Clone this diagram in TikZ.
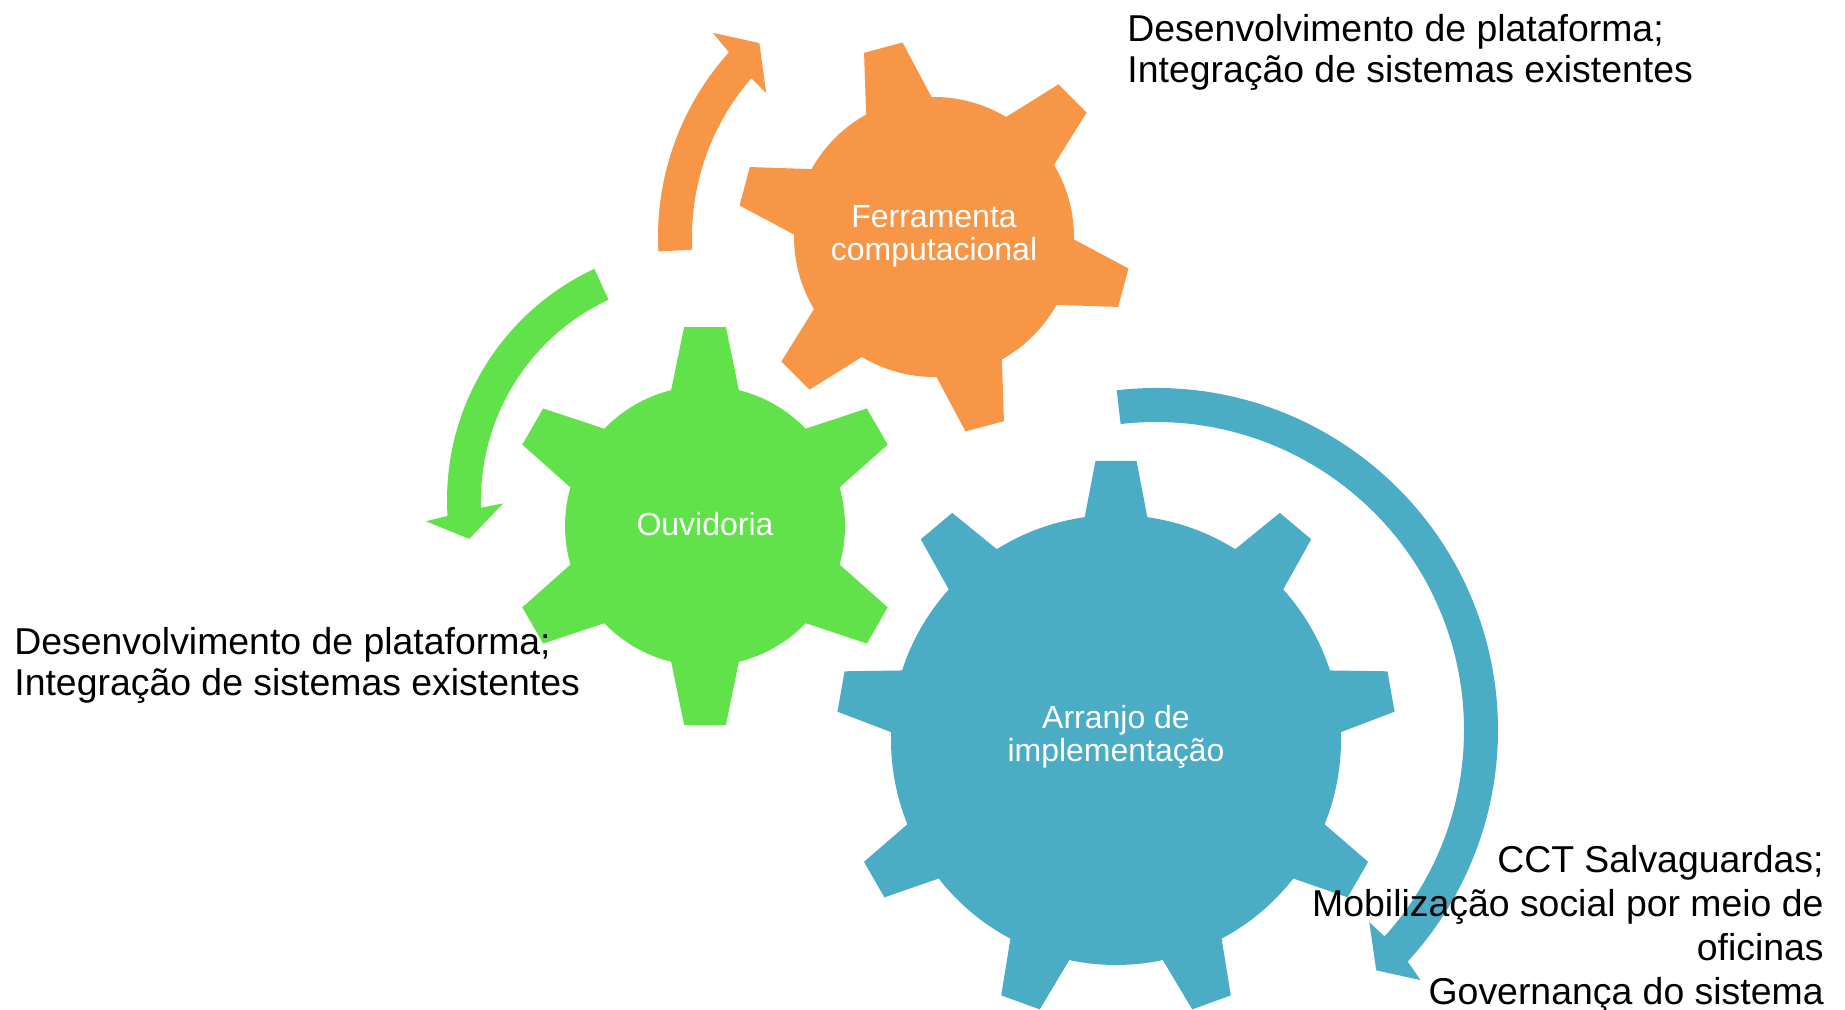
\documentclass[tikz,border=0pt]{standalone}
\usepackage{fontspec}
\setmainfont{Liberation Sans}
\definecolor{gearorange}{RGB}{247,150,70}
\definecolor{geargreen}{RGB}{98,226,74}
\definecolor{gearblue}{RGB}{75,172,198}

\begin{document}
\begin{tikzpicture}[
        x=0.5pt, y=0.5pt,
        gearlabel/.style={
            % The text block
            align=center,
            inner sep=0pt,
            % Font
            text=white,
            font=\fontsize{16}{16.5}\selectfont
        },
        note/.style={
            % The text block
            inner sep=0pt,
            % Font
            text=black,
            font=\fontsize{18.7}{20.5}\selectfont
        }]

    \useasboundingbox (0,0) rectangle (1845,1010);

    % gear centres
    \coordinate (ferc) at (934,773);
    \coordinate (ouvc) at (705,484);
    \coordinate (arrc) at (1116,270);
    % centres of the turning arrows
    \coordinate (ferturn) at (934,773);
    \coordinate (ouvturn) at (702,510);
    \coordinate (arrturn) at (1156,280);

    % gears
    \fill [gearorange, shift={(ferc)}] (91:140)
        \foreach \a in {105,165,...,405}
        { -- (\a-14:140) -- (\a-5.8:197) -- (\a+5.8:197) -- (\a+14:140)
          arc [start angle=\a+14, end angle=\a+46, radius=140] } -- cycle;
    \fill [geargreen, shift={(ouvc)}] (76:140)
        \foreach \a in {90,150,...,390}
        { -- (\a-14:140) -- (\a-6:200) -- (\a+6:200) -- (\a+14:140)
          arc [start angle=\a+14, end angle=\a+46, radius=140] } -- cycle;
    \fill [gearblue, shift={(arrc)}] (82:225)
        \foreach \a in {90,130,...,410}
        { -- (\a-8:225) -- (\a-4.2:280) -- (\a+4.2:280) -- (\a+8:225)
          arc [start angle=\a+8, end angle=\a+32, radius=225] } -- cycle;

    % turning arrows
    \fill [gearorange, shift={(ferturn)}] (183:276)
        arc [start angle=183, end angle=138, radius=276]
        -- (137.3:301) -- (132:261) -- (139.4:221) -- (139:242)
        arc [start angle=139, end angle=183, radius=242] -- cycle;
    \fill [geargreen, shift={(ouvturn)}] (115:255)
        arc [start angle=115, end angle=183.6, radius=255]
        -- (184.4:277) -- (189.5:236) -- (181:199) -- (182:221)
        arc [start angle=182, end angle=115, radius=221] -- cycle;
    \fill [gearblue, shift={(arrturn)}] (96.6:342)
        arc [start angle=96.6, end angle=-42.6, radius=342]
        -- (-43.4:364) -- (-47.5:326) -- (-42:287) -- (-42.1:308)
        arc [start angle=-42.1, end angle=96.6, radius=308] -- cycle;

    % labels
    \node [gearlabel] (ferramenta) at (934,773.5) {Ferramenta\\computacional};
    \node [gearlabel] (ouvidoria) at (705,486) {Ouvidoria};
    \node [gearlabel] (arranjo) at (1116,273) {Arranjo de\\implementação};

    \node [note, anchor=north west, align=left] (ferdesc) at (1127,996)
        {Desenvolvimento de plataforma;\\Integração de sistemas existentes};
    \node [note, anchor=north west, align=left] (ouvdesc) at (14,383)
        {Desenvolvimento de plataforma;\\Integração de sistemas existentes};
    \node [note, anchor=north east, align=right,
           font=\fontsize{18.7}{22}\selectfont] (arrdesc) at (1824,165)
        {CCT Salvaguardas;\\Mobilização social por meio de\\oficinas\\Governança do sistema};

\end{tikzpicture}
\end{document}
